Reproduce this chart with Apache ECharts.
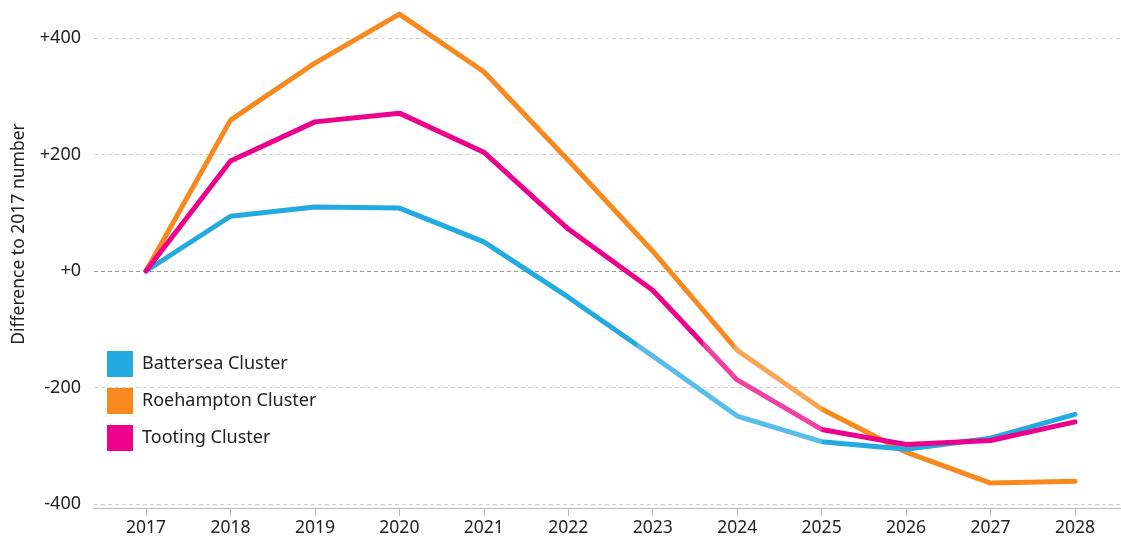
<!DOCTYPE html>
<html><head><meta charset="utf-8">
<script src="https://cdn.jsdelivr.net/npm/echarts@6/dist/echarts.min.js"></script>
<style>html,body{margin:0;padding:0;background:#fff}#c{width:1121px;height:547px}</style>
</head><body><div id="c"></div>
<script>
const years = [2017,2018,2019,2020,2021,2022,2023,2024,2025,2026,2027,2028];
const battersea = [0,94,110,108,50,-45,-146,-249,-293,-306,-287,-246];
const roehampton = [0,259,357,441,342,190,34,-136,-237,-311,-364,-361];
const tooting = [0,189,256,271,204,72,-33,-187,-272,-298,-291,-259];
const seriesNames = ['Battersea Cluster','Roehampton Cluster','Tooting Cluster'];
const colors = ['#22AAE1','#F7891F','#EC008C'];
const lightColors = ['#56BEE8','#F9A552','#F13FA4'];
const lightStart = [2022.81, 2023.96, 2023.6];
const lightEnd = 2025;

const font = '"Noto Sans", "Open Sans", sans-serif';
const allData = [battersea, roehampton, tooting];
const chart = echarts.init(document.getElementById('c'));
chart.setOption({
  animation: false,
  grid: {left: 94, right: 0, top: 38, bottom: 43},
  xAxis: {
    type: 'value', min: 2016.384, max: 2028.545, offset: 4,
    axisLine: {show: true, onZero: false, lineStyle: {color: '#bbb', width: 1}},
    axisTick: {show: true, customValues: years, length: 8, lineStyle: {color: '#bbb'}},
    axisLabel: {customValues: years, margin: 11, color: '#222', fontSize: 17.5, fontFamily: font, formatter: v => String(v)},
    splitLine: {show: false}
  },
  yAxis: {
    type: 'value', min: -400, max: 400, interval: 200,
    name: 'Difference to 2017 number', nameLocation: 'middle', nameGap: 66, nameRotate: 90,
    nameTextStyle: {color: '#222', fontSize: 17.5, fontFamily: font, padding: [0,0,0,74]},
    axisLine: {show: false}, axisTick: {show: false},
    axisLabel: {margin: 13, color: '#222', fontSize: 18, fontFamily: font,
      formatter: v => v > 0 ? '+' + v : (v === 0 ? '+0' : String(v))},
    splitLine: {show: true, lineStyle: {type: [4,3], color: ['#cfcfcf','#cfcfcf','#999','#cfcfcf','#cfcfcf'], width: 1}}
  },
  legend: {
    orient: 'vertical', left: 107, top: 351, padding: 0, itemWidth: 26, itemHeight: 26, itemGap: 11,
    icon: 'rect', textStyle: {color: '#222', fontSize: 18, fontFamily: font, padding: [3,0,0,4]},
    data: seriesNames.map((n, i) => ({name: n, itemStyle: {color: colors[i]}}))
  },
  visualMap: allData.map((d, i) => ({
    show: false, type: 'piecewise', seriesIndex: i, dimension: 0,
    pieces: [
      {lt: lightStart[i], color: colors[i]},
      {gte: lightStart[i], lte: lightEnd, color: lightColors[i]},
      {gt: lightEnd, color: colors[i]}
    ]
  })),
  series: allData.map((d, i) => ({
    name: seriesNames[i], type: 'line', clip: false, showSymbol: false, symbol: 'none',
    data: years.map((y, j) => [y, d[j]]),
    lineStyle: {width: 5, cap: 'round', join: 'round'},
    z: [3, 2, 4][i]
  }))
});
</script></body></html>
